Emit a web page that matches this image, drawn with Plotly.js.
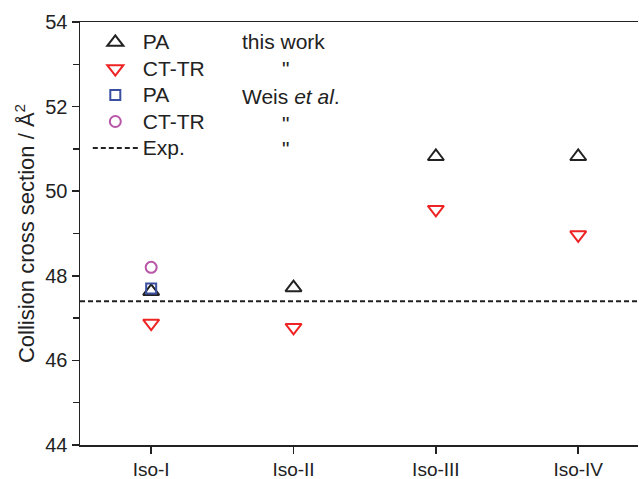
<!DOCTYPE html>
<html>
<head>
<meta charset="utf-8">
<script src="https://cdn.plot.ly/plotly-3.0.1.min.js"></script>
<style>html,body{margin:0;padding:0;background:#fff;}#chart{width:639px;height:479px;}</style>
</head>
<body>
<div id="chart"></div>
<script>
const categories = ["Iso-I", "Iso-II", "Iso-III", "Iso-IV"];
const paThisWork = [47.63, 47.72, 50.82, 50.82];
const ctTrThisWork = [46.88, 46.78, 49.57, 48.97];
const weisCategories = ["Iso-I"];
const paWeis = [47.70];
const ctTrWeis = [48.20];
const expValue = 47.40;

const FONT = "Liberation Sans, Arial, sans-serif";
const big = s => '<span style="font-size:21px">' + s + '</span>';

const traces = [
  {x: categories, y: paThisWork, type: "scatter", mode: "markers", name: big("PA"),
   marker: {symbol: "triangle-up-open", size: 14, color: "#222222", line: {width: 2, color: "#222222"}}, legendrank: 1},
  {x: categories, y: ctTrThisWork, type: "scatter", mode: "markers", name: big("CT-TR"),
   marker: {symbol: "triangle-down-open", size: 14, color: "#ee2424", line: {width: 2, color: "#ee2424"}}, legendrank: 2},
  {x: weisCategories, y: paWeis, type: "scatter", mode: "markers", name: big("PA"),
   marker: {symbol: "square-open", size: 10, color: "#3a4fa0", line: {width: 2, color: "#3a4fa0"}}, legendrank: 3},
  {x: weisCategories, y: ctTrWeis, type: "scatter", mode: "markers", name: big("CT-TR"),
   marker: {symbol: "circle-open", size: 11, color: "#b856a8", line: {width: 2, color: "#b856a8"}}, legendrank: 4}
];

const col2x = 0.287, quoteX = 0.369;
const rowY = [0.955, 0.889, 0.823, 0.759, 0.702];
const col2 = ["this work", "\"", "Weis <i>et al</i>.", "\"", "\""];
const annotations = col2.map((t, i) => ({
  xref: "paper", yref: "paper", x: t === "\"" ? quoteX : col2x, y: rowY[i],
  xanchor: t === "\"" ? "center" : "left", yanchor: "middle",
  text: t, showarrow: false, font: {family: FONT, size: 21, color: "#222"}
}));

const layout = {
  width: 639, height: 479,
  margin: {l: 80, r: 1, t: 22, b: 34},
  paper_bgcolor: "#fff", plot_bgcolor: "#fff",
  font: {family: FONT, size: 19, color: "#222"},
  showlegend: true,
  legend: {x: 0.014, y: 0.995, xanchor: "left", yanchor: "top", bgcolor: "rgba(0,0,0,0)",
           itemwidth: 45,
           font: {family: FONT, size: 18, color: "#222"}, traceorder: "normal"},
  xaxis: {
    type: "category", range: [-0.5, 3.42], showgrid: false, zeroline: false,
    showline: true, linecolor: "#222", linewidth: 1.5, mirror: true,
    ticks: "outside", ticklen: 7, tickcolor: "#222", tickwidth: 1.5,
    tickfont: {family: FONT, size: 19, color: "#222"}
  },
  yaxis: {
    range: [44, 54], dtick: 2, tick0: 44, showgrid: false, zeroline: false,
    showline: true, linecolor: "#222", linewidth: 1.5,
    ticks: "outside", ticklen: 7, tickcolor: "#222", tickwidth: 1.5,
    minor: {dtick: 1, ticks: "outside", ticklen: 6, tickcolor: "#222", tickwidth: 1.5},
    tickfont: {family: FONT, size: 20, color: "#222"},
    title: {text: "Collision cross section / Å<sup>2</sup>", font: {family: FONT, size: 22, color: "#222"}, standoff: 4}
  },
  shapes: [{
    type: "line", xref: "paper", yref: "y", x0: 0, x1: 1, y0: expValue, y1: expValue,
    line: {color: "#222", width: 2, dash: "5px,3px"}, showlegend: true, name: big("Exp."), legendrank: 5
  }],
  annotations: annotations
};

Plotly.newPlot("chart", traces, layout, {displayModeBar: false, staticPlot: true});
</script>
</body>
</html>
